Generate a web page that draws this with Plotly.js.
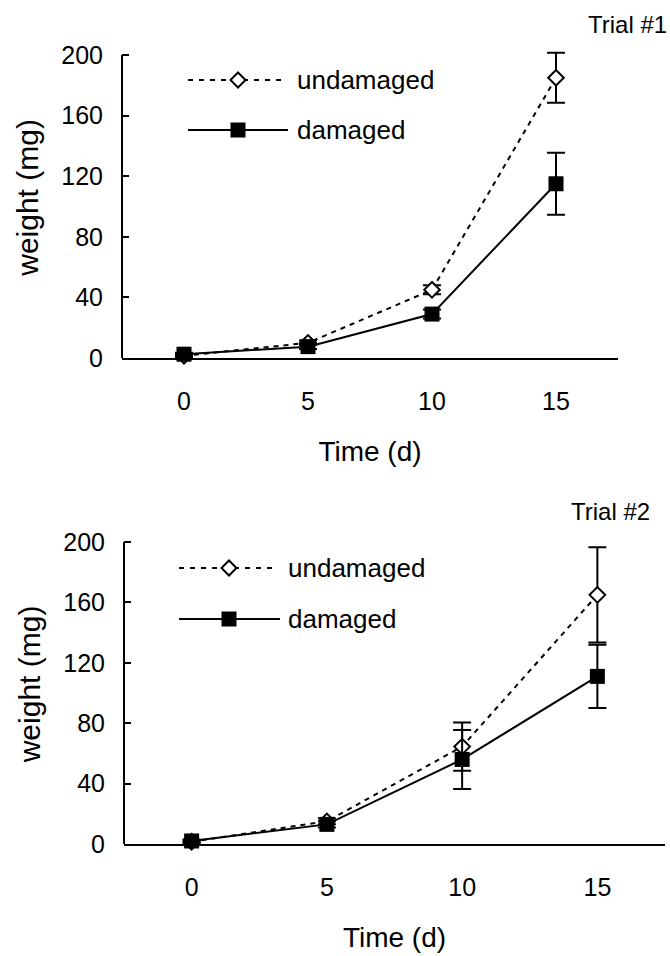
<!DOCTYPE html>
<html>
<head>
<meta charset="utf-8">
<script src="https://cdn.plot.ly/plotly-3.0.1.min.js"></script>
<style>html,body{margin:0;padding:0;background:#fff;}#chart{width:670px;height:956px;}</style>
</head>
<body>
<div id="chart"></div>
<script>
// ---- data ----
const timeDays = [0, 5, 10, 15];
const timeTickLabels = ["0", "5", "10", "15"];
const weightTicks = [0, 40, 80, 120, 160, 200];
const seriesNames = ["undamaged", "damaged"];
const trialLabels = ["Trial #1", "Trial #2"];

const trial1Undamaged = [1.5, 10, 45, 185];
const trial1UndamagedErr = [1, 1.5, 3, 16.5];
const trial1Damaged = [2.5, 7.5, 29, 115];
const trial1DamagedErr = [1, 1.5, 3, 20.5];

const trial2Undamaged = [1.5, 15, 64.5, 165];
const trial2UndamagedErr = [1, 2, 16, 31.5];
const trial2Damaged = [2, 13, 56, 111];
const trial2DamagedErr = [1, 2, 19.5, 21];

// ---- layout helpers (pixels -> paper) ----
const W = 670, H = 956;
const px = x => x / W;
const py = y => 1 - y / H;
const FONT = "Liberation Sans, Arial, sans-serif";
const Y_MAX_TICK = 200, Y_RANGE_TOP = 212;

function undamagedTrace(y, e, xa, ya) {
  return {
    x: timeDays, y: y, xaxis: xa, yaxis: ya, type: "scatter", mode: "lines+markers",
    name: seriesNames[0], showlegend: false, cliponaxis: false,
    line: {color: "#000", width: 2, dash: "5px,5px"},
    marker: {symbol: "diamond", size: 12, color: "#fff", line: {color: "#000", width: 2}},
    error_y: {type: "data", array: e, visible: true, color: "#000", thickness: 2, width: 9}
  };
}
function damagedTrace(y, e, xa, ya) {
  return {
    x: timeDays, y: y, xaxis: xa, yaxis: ya, type: "scatter", mode: "lines+markers",
    name: seriesNames[1], showlegend: false, cliponaxis: false,
    line: {color: "#000", width: 2},
    marker: {symbol: "square", size: 15, color: "#000", line: {color: "#000", width: 0}},
    error_y: {type: "data", array: e, visible: true, color: "#000", thickness: 2, width: 9}
  };
}

const data = [
  undamagedTrace(trial1Undamaged, trial1UndamagedErr, "x", "y"),
  damagedTrace(trial1Damaged, trial1DamagedErr, "x", "y"),
  undamagedTrace(trial2Undamaged, trial2UndamagedErr, "x2", "y2"),
  damagedTrace(trial2Damaged, trial2DamagedErr, "x2", "y2")
];

function xAxis(domain, anchor) {
  return {
    domain: domain, anchor: anchor, range: [-2.5, 17.5],
    tickmode: "array", tickvals: timeDays, ticktext: timeTickLabels,
    ticks: "", showgrid: false, zeroline: false,
    showline: true, linecolor: "#000", linewidth: 2,
    tickfont: {family: FONT, size: 25, color: "#000"},
    ticklabelstandoff: 20,
    title: {text: "Time (d)", font: {family: FONT, size: 28, color: "#000"}, standoff: 27}
  };
}
// domain from pixel positions of 0 and 200, extended up to Y_RANGE_TOP
function yAxis(yZeroPx, yTopTickPx, anchor) {
  const ppu = (yZeroPx - yTopTickPx) / Y_MAX_TICK;
  const topPx = yZeroPx - ppu * Y_RANGE_TOP;
  return {
    domain: [py(yZeroPx), py(topPx)], anchor: anchor, range: [0, Y_RANGE_TOP],
    tickmode: "array", tickvals: weightTicks,
    ticks: "inside", ticklen: 7, tickwidth: 2, tickcolor: "#000",
    showgrid: false, zeroline: false, showline: false,
    tickfont: {family: FONT, size: 25, color: "#000"},
    ticklabelstandoff: 18,
    title: {text: "weight (mg)", font: {family: FONT, size: 30, color: "#000"}, standoff: 13}
  };
}

const shapes = [];
const annotations = [];
// y axis lines that stop at the top tick
["", "2"].forEach(s => {
  shapes.push({type: "line", xref: "x" + s + " domain", yref: "y" + s, x0: 0, x1: 0, y0: 0, y1: Y_MAX_TICK,
    line: {color: "#000", width: 2}, layer: "above"});
});

// custom legend (paper-pixel placement)
function legendRow(kind, x0, x1, xm, y, textX) {
  shapes.push({type: "line", xref: "paper", yref: "paper", x0: px(x0), x1: px(x1), y0: py(y), y1: py(y),
    line: {color: "#000", width: 2, dash: kind === "undamaged" ? "5px,6px" : "solid"}});
  const r = 7.5;
  let path;
  if (kind === "undamaged") {
    path = `M ${px(xm)},${py(y - r)} L ${px(xm + r)},${py(y)} L ${px(xm)},${py(y + r)} L ${px(xm - r)},${py(y)} Z`;
    shapes.push({type: "path", xref: "paper", yref: "paper", path: path, fillcolor: "#fff", line: {color: "#000", width: 2}});
  } else {
    path = `M ${px(xm - r)},${py(y - r)} L ${px(xm + r)},${py(y - r)} L ${px(xm + r)},${py(y + r)} L ${px(xm - r)},${py(y + r)} Z`;
    shapes.push({type: "path", xref: "paper", yref: "paper", path: path, fillcolor: "#000", line: {color: "#000", width: 0}});
  }
  annotations.push({xref: "paper", yref: "paper", x: px(textX), y: py(y), xanchor: "left", yanchor: "middle",
    text: kind, showarrow: false, font: {family: FONT, size: 26, color: "#000"}});
}
legendRow("undamaged", 188, 285, 238, 80, 295);
legendRow("damaged", 188, 288, 238, 130, 295);
legendRow("undamaged", 179, 277, 229, 568, 286);
legendRow("damaged", 179, 280, 229, 619, 286);

annotations.push({xref: "paper", yref: "paper", x: px(669), y: py(25), xanchor: "right", yanchor: "middle",
  text: trialLabels[0], showarrow: false, font: {family: FONT, size: 24, color: "#000"}});
annotations.push({xref: "paper", yref: "paper", x: px(652), y: py(512), xanchor: "right", yanchor: "middle",
  text: trialLabels[1], showarrow: false, font: {family: FONT, size: 24, color: "#000"}});

const layout = {
  width: W, height: H,
  margin: {l: 0, r: 0, t: 0, b: 0, pad: 0},
  paper_bgcolor: "#fff", plot_bgcolor: "rgba(0,0,0,0)",
  showlegend: false,
  font: {family: FONT, color: "#000"},
  xaxis: xAxis([px(122), px(618)], "y"),
  yaxis: yAxis(358, 55, "x"),
  xaxis2: xAxis([px(124), px(665)], "y2"),
  yaxis2: yAxis(844, 542, "x2"),
  shapes: shapes,
  annotations: annotations
};

Plotly.newPlot("chart", data, layout, {displayModeBar: false, staticPlot: true});
</script>
</body>
</html>
